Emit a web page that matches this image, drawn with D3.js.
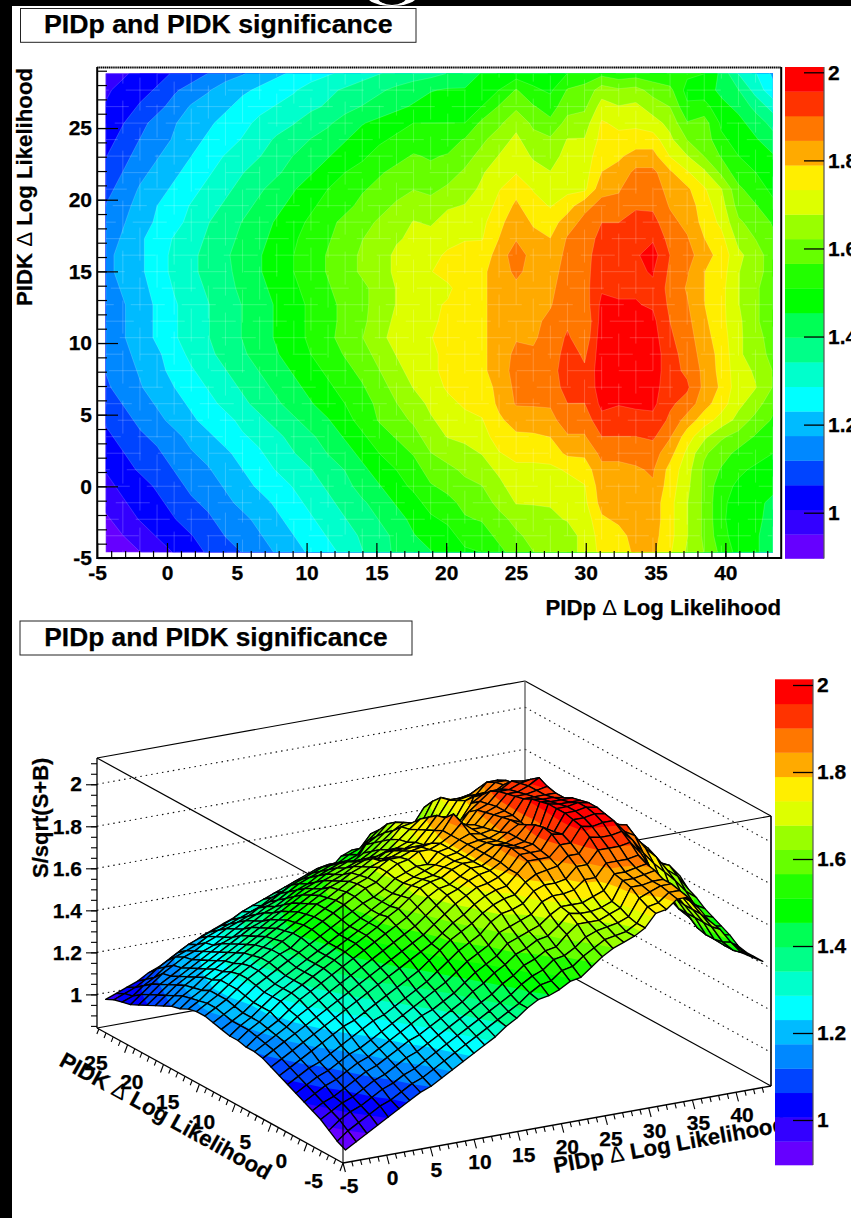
<!DOCTYPE html>
<html><head><meta charset="utf-8"><script src="https://cdn.jsdelivr.net/npm/d3@7"></script>
<style>html,body{margin:0;padding:0;background:#fff}svg{display:block}text{font-family:"Liberation Sans",Arial,sans-serif;font-weight:bold;fill:#000;stroke:#000;stroke-width:.25px}</style>
</head><body><svg id="c" width="851" height="1218"></svg>
<script>
const titleText = "PIDp and PIDK significance";
const xLabel = "PIDp \u0394 Log Likelihood";
const yLabel = "PIDK \u0394 Log Likelihood";
const zLabel = "S/sqrt(S+B)";
const palette = ["#6600ff","#3300ff","#0000ff","#0044ff","#0088ff","#00bbff","#00ffff","#00ffcc","#00ff88","#00ff55","#00ff00","#22ff00","#66ff00","#99ff00","#ddff00","#ffee00","#ffaa00","#ff7700","#ff3300","#ff0000"];
const zMin = 0.895, zMax = 2.0125;
const zTicks = [1,1.2,1.4,1.6,1.8,2];
const xMajor = [-5,0,5,10,15,20,25,30,35,40];
const yMajor = [-5,0,5,10,15,20,25];
// S/sqrt(S+B) x100; rows run from top (PIDK high) to bottom, columns PIDp low to high
const sigTable = [
[98,100,102,104,107,109,112,115,117,120,122,124,126,128,130,132,134,136,137,138,140,141,146,148,148,148,147,151,154,155,153,154,153,152,152,151,144,134,129,122],
[100,102,104,107,111,114,117,120,122,124,126,128,131,133,135,137,139,141,143,145,146,146,149,151,157,152,150,157,158,165,163,164,160,158,149,148,144,140,132,125],
[101,103,107,110,114,118,120,122,125,127,129,131,133,135,138,140,142,144,146,148,149,149,151,157,161,157,154,160,161,170,168,169,165,162,152,153,147,144,138,132],
[102,106,110,114,117,120,122,125,127,130,132,134,137,139,142,145,147,149,151,151,151,151,158,161,166,161,158,164,165,174,172,172,170,166,157,159,150,147,143,138],
[104,108,112,115,118,121,124,126,129,132,135,137,140,142,145,148,150,152,154,154,154,157,161,165,169,164,163,168,168,175,175,176,176,169,162,160,152,149,146,142],
[106,110,114,117,120,123,126,129,131,134,137,140,142,145,148,150,153,155,157,156,157,160,164,168,171,167,165,170,170,177,178,181,181,173,168,162,156,151,149,146],
[108,112,116,119,122,125,128,131,134,137,139,142,145,148,151,153,156,158,160,158,160,163,167,172,173,170,168,171,171,179,181,186,186,180,174,169,161,153,151,149],
[110,114,118,121,124,127,130,133,136,139,142,145,148,151,153,156,158,160,162,161,163,165,169,173,177,173,170,172,172,183,184,188,188,182,180,174,168,158,153,150],
[112,116,119,123,126,129,132,135,138,141,144,147,150,153,155,158,160,163,165,164,167,168,170,175,180,175,173,176,183,186,186,189,189,184,182,176,170,160,157,152],
[113,117,120,124,127,130,134,137,140,143,146,149,152,155,158,160,163,165,168,167,170,170,172,177,183,178,176,182,186,190,190,193,192,186,183,177,172,163,160,156],
[115,118,122,126,129,132,135,138,141,144,147,150,154,156,159,162,164,167,169,170,172,173,173,179,184,181,179,185,187,192,192,194,195,188,185,179,175,166,162,158],
[116,119,122,126,130,133,136,139,142,145,148,151,154,157,160,163,165,169,172,172,174,175,176,181,188,182,181,186,188,193,193,195,198,190,187,181,177,169,165,159],
[116,119,122,126,130,133,136,139,141,145,148,151,154,157,160,163,165,169,172,173,176,176,178,181,186,182,182,187,188,194,194,195,196,189,185,179,176,168,164,160],
[115,118,121,125,129,132,135,138,141,144,147,150,153,156,159,161,164,168,170,172,172,177,178,181,183,182,183,188,188,195,195,195,195,188,184,179,175,168,163,159],
[114,117,120,124,128,131,134,137,140,143,146,149,152,155,158,161,164,168,170,172,174,177,178,181,182,182,184,189,187,197,196,196,195,189,185,179,175,168,163,159],
[113,117,120,124,128,131,134,137,140,143,146,149,152,155,158,161,165,169,171,172,175,177,178,181,183,183,186,189,185,198,197,197,197,190,186,180,175,169,163,159],
[113,117,120,124,128,131,134,137,140,143,146,149,152,155,159,162,166,170,172,173,176,178,178,181,184,184,186,191,186,199,198,198,198,191,187,181,176,169,164,160],
[112,116,119,122,126,130,133,136,139,142,145,148,151,154,157,160,164,168,171,172,175,178,178,181,186,185,186,193,189,199,199,200,199,192,188,182,177,169,164,161],
[112,115,118,121,125,128,131,134,137,140,143,146,149,152,155,158,162,166,170,172,175,177,178,181,187,186,187,194,191,199,199,200,199,192,189,183,177,170,167,162],
[111,114,117,120,123,126,129,132,135,138,141,144,147,150,153,156,160,164,168,171,174,175,177,180,186,186,186,193,192,198,198,199,198,192,191,183,178,170,168,162],
[109,112,115,118,121,124,127,130,133,136,139,142,145,148,151,154,158,162,165,169,172,174,175,180,185,185,185,190,190,197,196,197,197,191,188,181,176,169,165,158],
[107,110,113,116,119,122,125,127,130,133,136,139,142,145,149,153,157,160,163,167,170,172,173,178,181,182,183,187,187,194,193,193,194,189,182,176,171,166,160,156],
[105,108,111,113,116,119,122,125,128,130,133,136,139,142,146,150,154,157,160,165,168,169,171,176,178,178,179,184,184,190,190,190,191,185,176,169,163,160,156,153],
[103,106,109,111,114,117,119,122,125,128,131,134,137,140,143,147,151,154,157,162,164,166,168,173,175,175,176,180,180,186,186,186,187,181,172,163,159,155,153,151],
[101,104,107,109,112,115,117,120,123,126,129,132,134,137,140,144,148,151,154,159,161,163,165,169,172,172,172,174,176,183,183,184,185,177,170,161,156,152,150,149],
[99,102,104,107,110,113,115,118,121,124,126,129,132,135,138,142,145,149,152,156,158,161,162,166,171,170,170,171,173,182,182,183,184,176,169,161,153,150,148,147],
[97,100,103,105,108,111,113,116,119,121,124,127,130,133,136,139,142,146,149,153,155,158,159,164,168,168,168,170,172,181,181,182,182,175,168,161,152,149,147,144],
[94,98,101,103,106,109,111,114,116,119,122,125,128,131,134,137,140,143,147,150,152,156,157,160,164,166,167,168,170,178,180,182,182,175,168,161,152,148,147,143],
[91,95,98,101,104,106,109,112,114,117,120,123,126,129,132,135,138,141,145,148,149,153,154,158,161,164,165,166,169,176,177,181,181,175,168,161,153,148,146,143],
[89,92,95,98,101,104,107,110,112,115,118,121,124,127,130,134,137,141,144,145,147,150,151,155,159,162,164,166,169,175,176,180,180,174,167,162,155,149,146,143]
];
const sig = sigTable.map(r => { if (r.length !== 40) throw new Error("row length " + r.length); return r.map(v => v / 100); });
const nx = sig[0].length, ny = sig.length;
const xCentre = d3.scaleLinear([0, nx - 1], [-4.3875, 43.3875]);
const yCentre = d3.scaleLinear([0, ny - 1], [28.8, -4.6]);
const levels = d3.range(palette.length).map(k => zMin + k * (zMax - zMin) / palette.length);
const plainNumber = d => String(d);

const svg = d3.select("#c");
svg.append("rect").attr("width", 851).attr("height", 1218).attr("fill", "#fff");

function titleBox(x, y, w, h, fs) {
  svg.append("rect").attr("x", x).attr("y", y).attr("width", w).attr("height", h).attr("fill", "#fff").attr("stroke", "#222").attr("stroke-width", 1);
  svg.append("text").attr("x", x + w / 2).attr("y", y + h - 9.5).attr("text-anchor", "middle").attr("font-size", fs).text(titleText);
}
function axisTitle(sel, s, fs) {
  const p = s.split("\u0394");
  sel.attr("font-size", fs);
  if (p.length > 1) {
    sel.append("tspan").text(p[0]);
    sel.append("tspan").style("font-weight", "normal").style("stroke-width", "0").text("\u0394");
    sel.append("tspan").text(p[1]);
  } else sel.text(s);
  return sel;
}
function colorBar(x0, x1, zScale, yTop, yBot) {
  const g = svg.append("g");
  g.selectAll("rect").data(palette).join("rect")
    .attr("x", x0).attr("width", x1 - x0)
    .attr("y", (d, k) => k === palette.length - 1 ? yTop : zScale(levels[k + 1]))
    .attr("height", (d, k) => (k === 0 ? yBot : zScale(levels[k])) - (k === palette.length - 1 ? yTop : zScale(levels[k + 1])) + 0.3)
    .attr("fill", d => d);
  const ax = svg.append("g").attr("transform", `translate(${x1},0)`)
    .call(d3.axisRight(zScale).tickValues(zTicks).tickFormat(plainNumber).tickSizeInner(-20).tickSizeOuter(0).tickPadding(4));
  ax.select(".domain").attr("d", `M0,${yTop}V${yBot}`).attr("stroke", "#555").attr("stroke-width", 1.2);
  ax.selectAll(".tick line").attr("stroke", "#000").attr("stroke-width", 1.3);
  ax.selectAll("text").attr("font-size", 21).attr("fill", "#000").attr("font-family", null);
}

/* ---------- top panel: filled contours ---------- */
titleBox(20.5, 8.5, 395.5, 33.8, 26.7);
const x2 = d3.scaleLinear([-5, 44], [97.2, 781.2]);
const y2 = d3.scaleLinear([-5, 29.26], [558, 67]);
const gridX = c => x2(xCentre(c - 0.5));
const gridY = c => y2(yCentre(c - 0.5));
const defs = svg.append("defs");
defs.append("clipPath").attr("id", "plot").append("rect")
  .attr("x", x2(xCentre(0))).attr("y", y2(yCentre(0)))
  .attr("width", x2(xCentre(nx - 1)) - x2(xCentre(0)))
  .attr("height", y2(yCentre(ny - 1)) - y2(yCentre(0)));
const flat = sig.flat();
const contours = d3.contours().size([nx, ny]).smooth(true).thresholds(levels.map((l, k) => k === 0 ? 0 : l))(flat);
const contourPath = d3.geoPath(d3.geoTransform({ point(x, y) { this.stream.point(gridX(x), gridY(y)); } }));
const gp = svg.append("g").attr("clip-path", "url(#plot)");
gp.selectAll("path").data(contours).join("path")
  .attr("d", contourPath).attr("fill", (d, k) => palette[k])
  .attr("stroke", "#fff").attr("stroke-opacity", 0.28).attr("stroke-width", 0.6);
// faint cell seams
const seam = gp.append("g").attr("stroke", "#fff").attr("stroke-opacity", 0.26).attr("stroke-width", 0.8);
seam.selectAll("line.v").data(d3.range(nx)).join("line").attr("class", "v")
  .attr("x1", i => x2(xCentre(i))).attr("x2", i => x2(xCentre(i)))
  .attr("y1", y2(yCentre(0))).attr("y2", y2(yCentre(ny - 1)))
  .attr("stroke-dasharray", "33 17").attr("stroke-dashoffset", i => (i * 23) % 50);
seam.selectAll("line.h").data(d3.range(ny)).join("line").attr("class", "h")
  .attr("y1", j => y2(yCentre(j))).attr("y2", j => y2(yCentre(j)))
  .attr("x1", x2(xCentre(0))).attr("x2", x2(xCentre(nx - 1)))
  .attr("stroke-dasharray", "34 17").attr("stroke-dashoffset", j => (j * 31) % 51);

const frame = svg.append("g").attr("fill", "none").attr("stroke", "#000");
frame.append("path").attr("d", `M${x2(-5)},67V558H${x2(44)}V67`).attr("stroke-width", 2);
frame.append("path").attr("d", `M${x2(-5)},67.5H${x2(44)}`).attr("stroke-width", 2).attr("stroke-dasharray", "1.4 0.5");
function styleAxis(g, lw) {
  g.select(".domain").remove();
  g.selectAll(".tick line").attr("stroke", "#000").attr("stroke-width", lw);
  g.selectAll("text").attr("font-size", 21).attr("fill", "#000").attr("font-family", null);
}
svg.append("g").attr("transform", "translate(0,558)")
  .call(d3.axisBottom(x2).tickValues(d3.range(-4, 44)).tickFormat("").tickSizeInner(-7).tickSizeOuter(0)).call(styleAxis, 1.2);
svg.append("g").attr("transform", "translate(0,558)")
  .call(d3.axisBottom(x2).tickValues(xMajor).tickFormat(plainNumber).tickSizeInner(-15).tickSizeOuter(0).tickPadding(7)).call(styleAxis, 1.2);
svg.append("g").attr("transform", "translate(98,0)")
  .call(d3.axisLeft(y2).tickValues(d3.range(-4, 30)).tickFormat("").tickSizeInner(-9).tickSizeOuter(0)).call(styleAxis, 1.2);
svg.append("g").attr("transform", "translate(98,0)")
  .call(d3.axisLeft(y2).tickValues(yMajor).tickFormat(plainNumber).tickSizeInner(-20).tickSizeOuter(0).tickPadding(6)).call(styleAxis, 1.2);
axisTitle(svg.append("text").attr("text-anchor", "end").attr("transform", "translate(32,68) rotate(-90)"), yLabel, 22.2);
axisTitle(svg.append("text").attr("text-anchor", "end").attr("x", 781).attr("y", 615), xLabel, 22.2);
colorBar(785, 824, d3.scaleLinear([1, 2], [512.7, 72.3]), 67, 558.5);

/* ---------- bottom panel: surface ---------- */
titleBox(20, 621, 392, 34, 26.3);
const A = [343, 1163], B = [771, 1086], C = [97, 1028];
const zPx = d3.scaleLinear([0.84, 2.125], [0, 270]);
const u = d3.scaleLinear([-5, 44], [0, 1]);
const v = d3.scaleLinear([-5, 29.26], [0, 1]);
const proj = (x, y, z) => [
  A[0] + u(x) * (B[0] - A[0]) + v(y) * (C[0] - A[0]),
  A[1] + u(x) * (B[1] - A[1]) + v(y) * (C[1] - A[1]) - zPx(z)
];
const zFloor = zPx.domain()[0], zTop = zPx.domain()[1];
const corner = (x, y, z) => proj(x, y, z);
const lineGen = d3.line();
const wall = svg.append("g").attr("fill", "none").attr("stroke", "#000");
const seg = (pts, w, col, dash) => wall.append("path").attr("d", lineGen(pts)).attr("stroke-width", w).attr("stroke", col || "#000").attr("stroke-dasharray", dash || null);
const yHi = 29.26, xHi = 44;
zTicks.forEach(z => {
  seg([corner(-5, yHi, z), corner(xHi, yHi, z)], 1.1, "#111", "1.5 4");
  seg([corner(xHi, yHi, z), corner(xHi, -5, z)], 1.1, "#111", "1.5 4");
});
seg([corner(-5, yHi, zTop), corner(xHi, yHi, zTop)], 1.2);
seg([corner(xHi, yHi, zTop), corner(xHi, -5, zTop)], 1.2);
seg([corner(-5, yHi, zTop), corner(-5, -5, zTop)], 1.2);
seg([corner(-5, -5, zTop), corner(xHi, -5, zTop)], 1.2);
seg([corner(-5, yHi, zFloor), corner(xHi, yHi, zFloor)], 1.2);
seg([corner(xHi, yHi, zFloor), corner(xHi, -5, zFloor)], 1.2);
seg([corner(xHi, yHi, zFloor), corner(xHi, yHi, zTop)], 1.4, "#666");

function clipAbove(poly, L) {
  const out = [];
  for (let k = 0; k < poly.length; k++) {
    const a = poly[k], b = poly[(k + 1) % poly.length];
    const ia = a[2] >= L, ib = b[2] >= L;
    if (ia) out.push(a);
    if (ia !== ib) {
      const t = (L - a[2]) / (b[2] - a[2]);
      out.push([a[0] + t * (b[0] - a[0]), a[1] + t * (b[1] - a[1]), L]);
    }
  }
  return out;
}
const closed = d3.line().curve(d3.curveLinearClosed);
const cells = [];
for (let r = 0; r < ny - 1; r++) for (let i = nx - 2; i >= 0; i--) cells.push({ i, r });
const gs = svg.append("g");
const cellG = gs.selectAll("g").data(cells).join("g");
cellG.each(function (d) {
  const { i, r } = d;
  const q = [[i, r], [i + 1, r], [i + 1, r + 1], [i, r + 1]]
    .map(([a, b]) => [xCentre(a), yCentre(b), sig[b][a]]);
  const g = d3.select(this);
  const zs = q.map(p => p[2]);
  const lo = d3.min(zs), hi = d3.max(zs);
  levels.forEach((L, k) => {
    const poly = (k === 0 ? q : (L <= lo ? q : (L > hi ? [] : clipAbove(q, L))));
    if (poly.length < 3) return;
    if (k + 1 < levels.length && levels[k + 1] <= lo) return;
    g.append("path").attr("d", closed(poly.map(p => proj(p[0], p[1], p[2])))).attr("fill", palette[k]);
  });
  g.append("path").attr("d", closed(q.map(p => proj(p[0], p[1], p[2]))))
    .attr("fill", "none").attr("stroke", "#000").attr("stroke-width", 1.35).attr("stroke-linejoin", "round");
});

const front = svg.append("g").attr("fill", "none").attr("stroke", "#000");
const seg2 = (pts, w) => front.append("path").attr("d", lineGen(pts)).attr("stroke-width", w);
seg2([corner(-5, -5, zFloor), corner(-5, -5, zTop)], 1.1);
seg2([corner(-5, yHi, zFloor), corner(-5, yHi, zTop)], 1.3);
seg2([corner(xHi, -5, zFloor), corner(xHi, -5, zTop)], 1.6);
seg2([corner(-5, -5, zFloor), corner(xHi, -5, zFloor)], 1.4);
seg2([corner(-5, -5, zFloor), corner(-5, yHi, zFloor)], 1.4);

// z axis on the left edge
const zAxisScale = d3.scaleLinear([0.84, 2.125], [1028, 758]);
svg.append("g").attr("transform", "translate(97,0)")
  .call(d3.axisLeft(zAxisScale).tickValues(d3.range(17, 43).map(n => n * 0.05).filter(n => n > 0.84 && n < 2.125)).tickFormat("").tickSizeInner(6).tickSizeOuter(0)).call(styleAxis, 1.1);
svg.append("g").attr("transform", "translate(97,0)")
  .call(d3.axisLeft(zAxisScale).tickValues(zTicks).tickFormat(plainNumber).tickSizeInner(11).tickSizeOuter(0).tickPadding(4)).call(styleAxis, 1.1);

// x and y floor-axis ticks
const floorTicks = svg.append("g").attr("stroke", "#000").attr("stroke-width", 1.1);
const tickSeg = (p, dx, dy) => floorTicks.append("line").attr("x1", p[0]).attr("y1", p[1]).attr("x2", p[0] + dx).attr("y2", p[1] + dy);
d3.range(-5, 44).forEach(t => { const major = xMajor.includes(t); tickSeg(corner(t, -5, zFloor), major ? 2.4 : 1.3, major ? 9 : 5); });
d3.range(-5, 30).forEach(t => { const major = yMajor.includes(t); tickSeg(corner(-5, t, zFloor), major ? -3 : -2, major ? 8 : 5); });
const tl = svg.append("g").attr("font-size", 21);
tl.selectAll("text.x").data(xMajor).join("text").attr("class", "x").attr("text-anchor", "middle")
  .attr("x", d => corner(d, -5, zFloor)[0] + 6).attr("y", d => corner(d, -5, zFloor)[1] + 30).text(d => d);
tl.selectAll("text.y").data(yMajor).join("text").attr("class", "y").attr("text-anchor", "end")
  .attr("x", d => corner(-5, d, zFloor)[0] - 20).attr("y", d => corner(-5, d, zFloor)[1] + 25).text(d => d);

axisTitle(svg.append("text").attr("transform", "translate(58,1065) rotate(29)"), yLabel, 22.2);
axisTitle(svg.append("text").attr("transform", "translate(555,1173) rotate(-10.2)"), xLabel, 22.2);
svg.append("text").attr("text-anchor", "start").attr("font-size", 22).attr("transform", "translate(48,878) rotate(-90)").text(zLabel);
colorBar(775, 813, d3.scaleLinear([1, 2], [1120, 685]), 679.3, 1165);

/* ---------- page furniture ---------- */
svg.append("rect").attr("x", 0).attr("y", 0).attr("width", 12).attr("height", 1218).attr("fill", "#000");
svg.append("rect").attr("x", 0).attr("y", 0).attr("width", 851).attr("height", 6).attr("fill", "#000");
svg.append("ellipse").attr("cx", 392).attr("cy", -4).attr("rx", 25).attr("ry", 10).attr("fill", "#fff");
svg.append("ellipse").attr("cx", 392).attr("cy", -4).attr("rx", 15).attr("ry", 9).attr("fill", "#000");
</script></body></html>
